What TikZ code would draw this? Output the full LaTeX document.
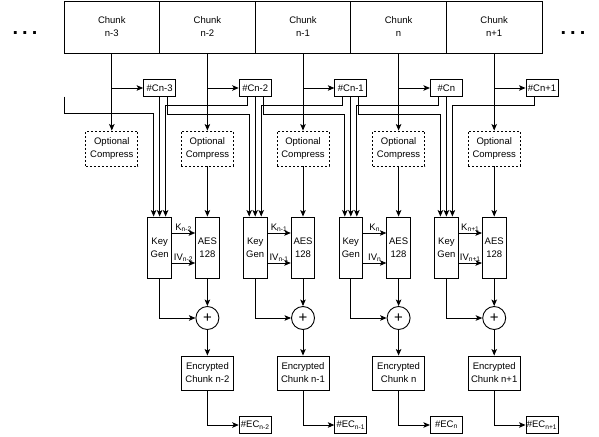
\documentclass[tikz,border=0pt]{standalone}
\usepackage{fontspec}
\setmainfont{Liberation Sans}
\usetikzlibrary{arrows.meta}

\newcommand{\diagfont}{\fontsize{9.5}{13}\selectfont}
\tikzset{
  box/.style={draw, line width=0.9pt, inner sep=0pt, align=center, font=\diagfont},
  chunkbox/.style={box, minimum width=95.6pt, minimum height=52pt},
  hashbox/.style={box, minimum width=32pt, minimum height=17pt},
  compbox/.style={box, dash pattern=on 2pt off 2pt, minimum width=52pt, minimum height=35pt},
  tallbox/.style={box, minimum width=23.5pt, minimum height=61pt},
  encbox/.style={box, minimum width=52pt, minimum height=34pt},
  xorbox/.style={draw, circle, line width=0.9pt, minimum size=23pt, inner sep=0pt, font=\fontsize{15}{15}\selectfont},
  wire/.style={line width=0.9pt, -{Stealth[length=6.5pt,width=5.5pt,inset=1.5pt]}},
}

\begin{document}
\begin{tikzpicture}[x=1pt, y=-1pt]
    \useasboundingbox (0,0) rectangle (599,436);

    % Points de suspension
    \node (dotsl) at (25,33) {\fontsize{20}{20}\selectfont\bfseries .\hspace{4pt}.\hspace{4pt}.};
    \node (dotsr) at (573,33) {\fontsize{20}{20}\selectfont\bfseries .\hspace{4pt}.\hspace{4pt}.};

    % Chunks, hash et compression
    \foreach \i/\lab in {0/n-3,1/n-2,2/n-1,3/n,4/n+1}{
        \node[chunkbox] (chunk\i) at ({111.8+95.6*\i},27) {Chunk\\\lab};
        \node[hashbox] (hc\i) at ({159.6+95.6*\i},88) {\#C\lab};
        \node[compbox] (comp\i) at ({111.8+95.6*\i},148.5) {Optional\\Compress};
        \draw[wire] (chunk\i) -- (comp\i);
        \draw[wire] (chunk\i.south |- hc\i) -- (hc\i);
    }

    % Key Gen, AES, XOR et sorties
    \foreach \i/\lab in {1/n-2,2/n-1,3/n,4/n+1}{
        \node[tallbox] (kg\i) at ({64+95.6*\i},247.5) {Key\\Gen};
        \node[tallbox] (aes\i) at ({111.8+95.6*\i},247.5) {AES\\128};
        \node[xorbox] (xor\i) at ({111.8+95.6*\i},318) {+};
        \node[encbox] (enc\i) at ({111.8+95.6*\i},373) {Encrypted\\Chunk \lab};
        \node[hashbox] (hec\i) at ({159.6+95.6*\i},425) {\#EC\textsubscript{\lab}};
        \draw[wire] (comp\i) -- (aes\i);
        \draw[wire] ([yshift=14.5pt]kg\i.east) -- ([yshift=14.5pt]aes\i.west)
            node[midway, above, inner sep=1pt, font=\diagfont] {K\textsubscript{\lab}};
        \draw[wire] ([yshift=-15.5pt]kg\i.east) -- ([yshift=-15.5pt]aes\i.west)
            node[midway, above, inner sep=1pt, font=\diagfont] {IV\textsubscript{\lab}};
        \draw[wire] (aes\i) -- (xor\i);
        \draw[wire] (kg\i) |- (xor\i);
        \draw[wire] (xor\i) -- (enc\i);
        \draw[wire] (enc\i) |- (hec\i);
        % hash suivant vers la droite du Key Gen
        \draw[wire] ([xshift=-8pt]hc\i.south) -- ++(0,8.5) -| ([xshift=6pt]kg\i.north);
    }

    % hash au-dessus
    \foreach \k/\m in {0/1,1/2,2/3,3/4}
        \draw[wire] (hc\k) -- (kg\m);

    % hash precedent vers la gauche du Key Gen
    \foreach \k/\m in {0/2,1/3,2/4}
        \draw[wire] ([xshift=8pt]hc\k.south) -- ++(0,17) -| ([xshift=-6pt]kg\m.north);
    \coordinate (cut) at (64,96.5);
    \draw[wire] (cut) -- ++(0,17) -| ([xshift=-6pt]kg1.north);
\end{tikzpicture}
\end{document}
